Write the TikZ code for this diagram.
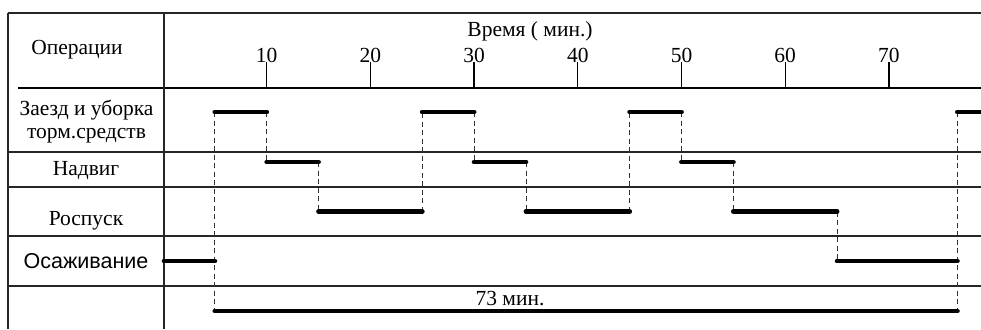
\documentclass[tikz,border=0pt]{standalone}
\usepackage{fontspec}
\setmainfont{Liberation Serif}
\newfontfamily\arialfont{Liberation Sans}
\begin{document}
\begin{tikzpicture}[x=1pt,y=-1pt,
  gridline/.style={line width=1.2pt, black!85},
  headrule/.style={line width=2pt},
  tickline/.style={line width=1.3pt},
  bar/.style={line width=4.8pt, line cap=round},
  guide/.style={line width=0.8pt, black!80, dash pattern=on 5pt off 3.5pt},
  lbl/.style={font=\fontsize{21.5}{24}\selectfont, inner sep=0pt, anchor=base},
]
\def\T{10.37}
\useasboundingbox (0,0) rectangle (981,329);
% grid
\draw[gridline] (8,13) -- (981,13);
\draw[headrule] (18,88) -- (981,88);
\foreach \yy in {152,187,236,286} \draw[gridline] (8,\yy) -- (981,\yy);
\draw[gridline] (8,13) -- (8,329);
\draw[gridline] (164,13) -- (164,329);
% ticks
\foreach \t in {10,20,...,70} {
  \draw[tickline] ({163+\t*\T},88) -- ({163+\t*\T},62);
  \node[lbl] (tk\t) at ({163+\t*\T},63) {\t};
}
\node[lbl] (time) at (530,37) {Время ( мин.)};
\node[lbl] (ops) at (77,55) {Операции};
\node[lbl] (op1a) at (86.5,115) {Заезд и уборка};
\node[lbl] (op1b) at (86.5,138) {торм.средств};
\node[lbl] (op2) at (86,175) {Надвиг};
\node[lbl] (op3) at (86,225) {Роспуск};
\node[lbl, font=\fontsize{21.5}{24}\arialfont] (op4) at (86,268) {Осаживание};
\node[lbl] (total) at (510,305) {73 мин.};
% dashed guides
\foreach \t/\ya/\yb in {5/112/311, 10/112/162, 15/162/211.5, 25/211.5/112, 30/112/162, 35/162/211.5, 45/211.5/112, 50/112/162, 55/162/211.5, 65/211.5/261, 76.6/112/311}
  \draw[guide] ({163+\t*\T},\ya) -- ({163+\t*\T},\yb);
% bars
\foreach \a/\b/\yy in {5/10/112, 25/30/112, 45/50/112, 76.6/82/112,
  10/15/162, 30/35/162, 50/55/162,
  15/25/211.5, 35/45/211.5, 55/65/211.5,
  0.1/5/261, 65/76.6/261, 5/76.6/311}
  \draw[bar] ({163+\a*\T},\yy) -- ({163+\b*\T},\yy);
\end{tikzpicture}
\end{document}
